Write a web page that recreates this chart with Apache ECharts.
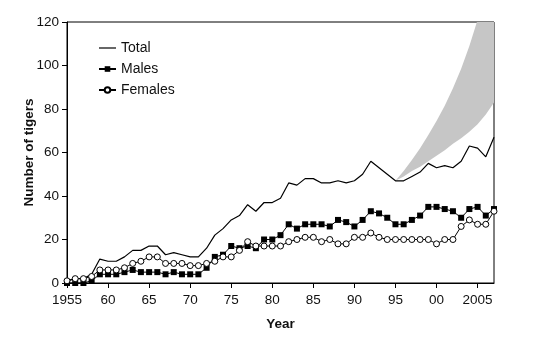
<!DOCTYPE html>
<html>
<head>
<meta charset="utf-8">
<script src="https://cdn.jsdelivr.net/npm/echarts@6/dist/echarts.min.js"></script>
<style>
  html, body { margin: 0; padding: 0; background: #fff; }
  #chart { width: 539px; height: 339px; }
</style>
</head>
<body>
<div id="chart"></div>
<script>
// Annual tiger counts, 1955-2007
const years = [
  1955, 1956, 1957, 1958, 1959, 1960, 1961, 1962, 1963, 1964,
  1965, 1966, 1967, 1968, 1969, 1970, 1971, 1972, 1973, 1974,
  1975, 1976, 1977, 1978, 1979, 1980, 1981, 1982, 1983, 1984,
  1985, 1986, 1987, 1988, 1989, 1990, 1991, 1992, 1993, 1994,
  1995, 1996, 1997, 1998, 1999, 2000, 2001, 2002, 2003, 2004,
  2005, 2006, 2007
];
const total = [
  1, 2, 2, 4, 11, 10, 10, 12, 15, 15,
  17, 17, 13, 14, 13, 12, 12, 16, 22, 25,
  29, 31, 36, 33, 37, 37, 39, 46, 45, 48,
  48, 46, 46, 47, 46, 47, 50, 56, 53, 50,
  47, 47, 49, 51, 55, 53, 54, 53, 56, 63,
  62, 58, 67
];
const males = [
  0, 0, 0, 1, 4, 4, 4, 5, 6, 5,
  5, 5, 4, 5, 4, 4, 4, 7, 12, 13,
  17, 16, 17, 16, 20, 20, 22, 27, 25, 27,
  27, 27, 26, 29, 28, 26, 29, 33, 32, 30,
  27, 27, 29, 31, 35, 35, 34, 33, 30, 34,
  35, 31, 34
];
const females = [
  1, 2, 2, 3, 6, 6, 6, 7, 9, 10,
  12, 12, 9, 9, 9, 8, 8, 9, 10, 12,
  12, 15, 19, 17, 17, 17, 17, 19, 20, 21,
  21, 19, 20, 18, 18, 21, 21, 23, 21, 20,
  20, 20, 20, 20, 20, 18, 20, 20, 26, 29,
  27, 27, 33
];

// Projected range from 1995 onward (lower and upper bounds)
const bandYears = [1995, 1996, 1997, 1998, 1999, 2000, 2001, 2002, 2003, 2004, 2005, 2006, 2007];
const bandLow  = [47, 49, 51.5, 53.5, 56, 58.5, 61, 64, 66.5, 69.5, 73, 77.5, 83];
const bandHigh = [47, 51.5, 56.5, 62, 68, 74.5, 81.5, 89.5, 98.5, 109, 121, 134, 148];

// Axis tick positions and their labels
const xTickYears  = [1955, 1960, 1965, 1970, 1975, 1980, 1985, 1990, 1995, 2000, 2005];
const xTickLabels = ['1955', '60', '65', '70', '75', '80', '85', '90', '95', '00', '2005'];

const FONT = '"Liberation Sans", Arial, sans-serif';
const INK = '#111';

const pairs = (xs, ys) => xs.map((x, i) => [x, ys[i]]);
const bandData = bandYears.map((y, i) => [y, bandLow[i], bandHigh[i]]);

// The band is one polygon: along the upper bound, then back along the lower bound
function renderBand(params, api) {
  if (params.dataIndex !== 0) return null;
  const upper = bandData.map(d => api.coord([d[0], d[2]]));
  const lower = bandData.map(d => api.coord([d[0], d[1]])).reverse();
  return {
    type: 'polygon',
    shape: { points: upper.concat(lower) },
    style: { fill: '#c6c6c6', stroke: null }
  };
}

const chart = echarts.init(document.getElementById('chart'), null, { renderer: 'canvas' });

chart.setOption({
  animation: false,
  backgroundColor: '#fff',
  textStyle: { fontFamily: FONT },
  grid: {
    left: 67, right: 45, top: 22, bottom: 56,
    show: true, borderColor: '#000', borderWidth: 1, backgroundColor: 'transparent'
  },
  legend: {
    data: [
      { name: 'Total', icon: 'path://M0,0 L17,0 L17,1.2 L0,1.2 Z' },
      { name: 'Males' },
      { name: 'Females' }
    ],
    orient: 'vertical',
    left: 93, top: 36,
    itemWidth: 17, itemHeight: 7, itemGap: 7,
    symbolKeepAspect: true,
    textStyle: { fontFamily: FONT, fontSize: 14, color: INK },
    inactiveColor: '#000'
  },
  xAxis: {
    type: 'value', min: 1955, max: 2007,
    axisLine: { show: true, lineStyle: { color: '#000', width: 1 } },
    axisTick: { show: true, customValues: xTickYears, length: 5, lineStyle: { color: '#000' } },
    axisLabel: {
      customValues: xTickYears,
      formatter: v => xTickLabels[xTickYears.indexOf(v)],
      color: INK, fontSize: 13.5, fontFamily: FONT, margin: 10
    },
    splitLine: { show: false },
    name: 'Year', nameLocation: 'middle', nameGap: 34, nameMoveOverlap: false,
    nameTextStyle: { fontFamily: FONT, fontWeight: 'bold', fontSize: 13.5, color: INK }
  },
  yAxis: {
    type: 'value', min: 0, max: 120, interval: 20,
    axisLine: { show: true, lineStyle: { color: '#000', width: 1 } },
    axisTick: { show: true, length: 5, lineStyle: { color: '#000' } },
    axisLabel: { color: INK, fontSize: 13.5, fontFamily: FONT, margin: 8 },
    splitLine: { show: false },
    name: 'Number of tigers', nameLocation: 'middle', nameGap: 31, nameMoveOverlap: false,
    nameTextStyle: { fontFamily: FONT, fontWeight: 'bold', fontSize: 13.5, color: INK }
  },
  series: [
    {
      name: 'range', type: 'custom',
      data: bandData,
      encode: { x: 0, y: [1, 2] },
      renderItem: renderBand,
      clip: true, silent: true, z: 1
    },
    {
      name: 'Total', type: 'line',
      data: pairs(years, total),
      symbol: 'none', color: '#000',
      itemStyle: { color: '#000' },
      lineStyle: { color: '#000', width: 1.2 }, z: 3
    },
    {
      name: 'Males', type: 'line',
      data: pairs(years, males),
      symbol: 'rect', symbolSize: 6, color: '#000',
      itemStyle: { color: '#000' },
      lineStyle: { color: '#000', width: 1 }, z: 4
    },
    {
      name: 'Females', type: 'line',
      data: pairs(years, females),
      symbol: 'circle', symbolSize: 6,
      itemStyle: { color: '#fff', borderColor: '#000', borderWidth: 1 },
      lineStyle: { color: '#000', width: 1 }, z: 5
    }
  ]
});
</script>
</body>
</html>
